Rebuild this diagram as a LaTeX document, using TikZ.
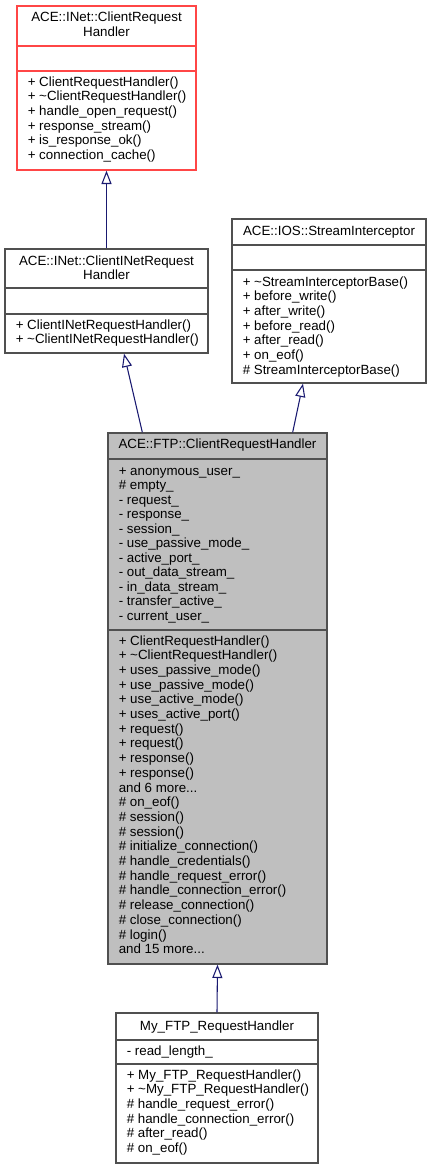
\documentclass[tikz,border=0pt]{standalone}
\usepackage{fontspec}
\setmainfont{Liberation Sans}
\usepackage{tikz}
\usetikzlibrary{positioning}
\usetikzlibrary{fit}
\usetikzlibrary{calc}
\usetikzlibrary{arrows.meta}

\definecolor{boxgray}{RGB}{80,80,80}
\definecolor{truncred}{RGB}{255,70,70}
\definecolor{edgeblue}{RGB}{25,25,112}
\definecolor{selfgray}{RGB}{191,191,191}

\tikzset{
  classbox/.style={draw=boxgray, line width=1pt, inner sep=0pt, fill=white},
  sepline/.style={draw=boxgray, line width=1pt},
  title/.style={anchor=base, inner sep=0pt, font=\fontsize{10}{12}\selectfont},
  member/.style={anchor=base west, inner sep=0pt, font=\fontsize{10}{12}\selectfont},
  inherit/.style={draw=edgeblue, line width=0.8pt,
    -{Triangle[open, length=10pt, width=7.5pt]}}
}

\newcommand{\moredots}{...}
% one member per line, starting at baseline #3, #4 apart
\newcommand{\memberlist}[5]{%
  \foreach \m [count=\k from 0] in {#5}
    \node[member] (#1-\k) at (#2,#3+\k*#4) {\m};}

\begin{document}
\begin{tikzpicture}[x=0.75pt, y=-0.75pt]
  \useasboundingbox (0,0) rectangle (431,1171);

  % ACE::INet::ClientRequestHandler
  \node[classbox, draw=truncred, fit={(17,6) (196,170)}] (base) {};
  \draw[sepline, draw=truncred] (17,46) -- (196,46);
  \draw[sepline, draw=truncred] (17,71) -- (196,71);
  \node[title] (base-t1) at (106.5,21.7) {ACE::INet::ClientRequest};
  \node[title] (base-t2) at (106.5,36) {Handler};
  \memberlist{basef}{27.5}{86}{14.7}{%
    + ClientRequestHandler(),
    + \textasciitilde ClientRequestHandler(),
    + handle\_open\_request(),
    + response\_stream(),
    + is\_response\_ok(),
    + connection\_cache()}

  % ACE::INet::ClientINetRequestHandler
  \node[classbox, fit={(5,249) (208,353)}] (inet) {};
  \draw[sepline] (5,288) -- (208,288);
  \draw[sepline] (5,314) -- (208,314);
  \node[title] (inet-t1) at (106.5,265) {ACE::INet::ClientINetRequest};
  \node[title] (inet-t2) at (106.5,279.5) {Handler};
  \memberlist{inetf}{15.5}{329}{14.7}{%
    + ClientINetRequestHandler(),
    + \textasciitilde ClientINetRequestHandler()}

  % ACE::IOS::StreamInterceptor
  \node[classbox, fit={(232,219) (426,383)}] (intc) {};
  \draw[sepline] (232,245) -- (426,245);
  \draw[sepline] (232,270) -- (426,270);
  \node[title] (intc-t1) at (329,235) {ACE::IOS::StreamInterceptor};
  \memberlist{intcf}{242.5}{286}{14.7}{%
    + \textasciitilde StreamInterceptorBase(),
    + before\_write(),
    + after\_write(),
    + before\_read(),
    + after\_read(),
    + on\_eof(),
    \# StreamInterceptorBase()}

  % ACE::FTP::ClientRequestHandler
  \node[classbox, fill=selfgray, fit={(108,433) (327,964)}] (ftp) {};
  \draw[sepline] (108,459) -- (327,459);
  \draw[sepline] (108,630) -- (327,630);
  \node[title] (ftp-t1) at (217.5,448) {ACE::FTP::ClientRequestHandler};
  \memberlist{ftpa}{118.5}{475}{14.5}{%
    + anonymous\_user\_,
    \# empty\_,
    - request\_,
    - response\_,
    - session\_,
    - use\_passive\_mode\_,
    - active\_port\_,
    - out\_data\_stream\_,
    - in\_data\_stream\_,
    - transfer\_active\_,
    - current\_user\_}
  \memberlist{ftpf}{118.5}{645}{14.7}{%
    + ClientRequestHandler(),
    + \textasciitilde ClientRequestHandler(),
    + uses\_passive\_mode(),
    + use\_passive\_mode(),
    + use\_active\_mode(),
    + uses\_active\_port(),
    + request(),
    + request(),
    + response(),
    + response(),
    and 6 more\moredots,
    \# on\_eof(),
    \# session(),
    \# session(),
    \# initialize\_connection(),
    \# handle\_credentials(),
    \# handle\_request\_error(),
    \# handle\_connection\_error(),
    \# release\_connection(),
    \# close\_connection(),
    \# login(),
    and 15 more\moredots}

  % My_FTP_RequestHandler
  \node[classbox, fit={(116,1013) (318,1163)}] (myftp) {};
  \draw[sepline] (116,1040) -- (318,1040);
  \draw[sepline] (116,1064) -- (318,1064);
  \node[title] (myftp-t1) at (217,1030) {My\_FTP\_RequestHandler};
  \memberlist{myftpa}{126.5}{1055}{14.7}{- read\_length\_}
  \memberlist{myftpf}{126.5}{1079}{14.7}{%
    + My\_FTP\_RequestHandler(),
    + \textasciitilde My\_FTP\_RequestHandler(),
    \# handle\_request\_error(),
    \# handle\_connection\_error(),
    \# after\_read(),
    \# on\_eof()}

  % inheritance
  \draw[inherit] (inet.north) -- (base.south);
  \draw[inherit] ($(ftp.north west)+(35,0)$) -- ($(inet.south)+(17.5,0)$);
  \draw[inherit] ($(ftp.north east)+(-35,0)$) -- ($(intc.south)+(-26,0)$);
  \draw[inherit] (myftp.north) -- (ftp.south);
\end{tikzpicture}
\end{document}
